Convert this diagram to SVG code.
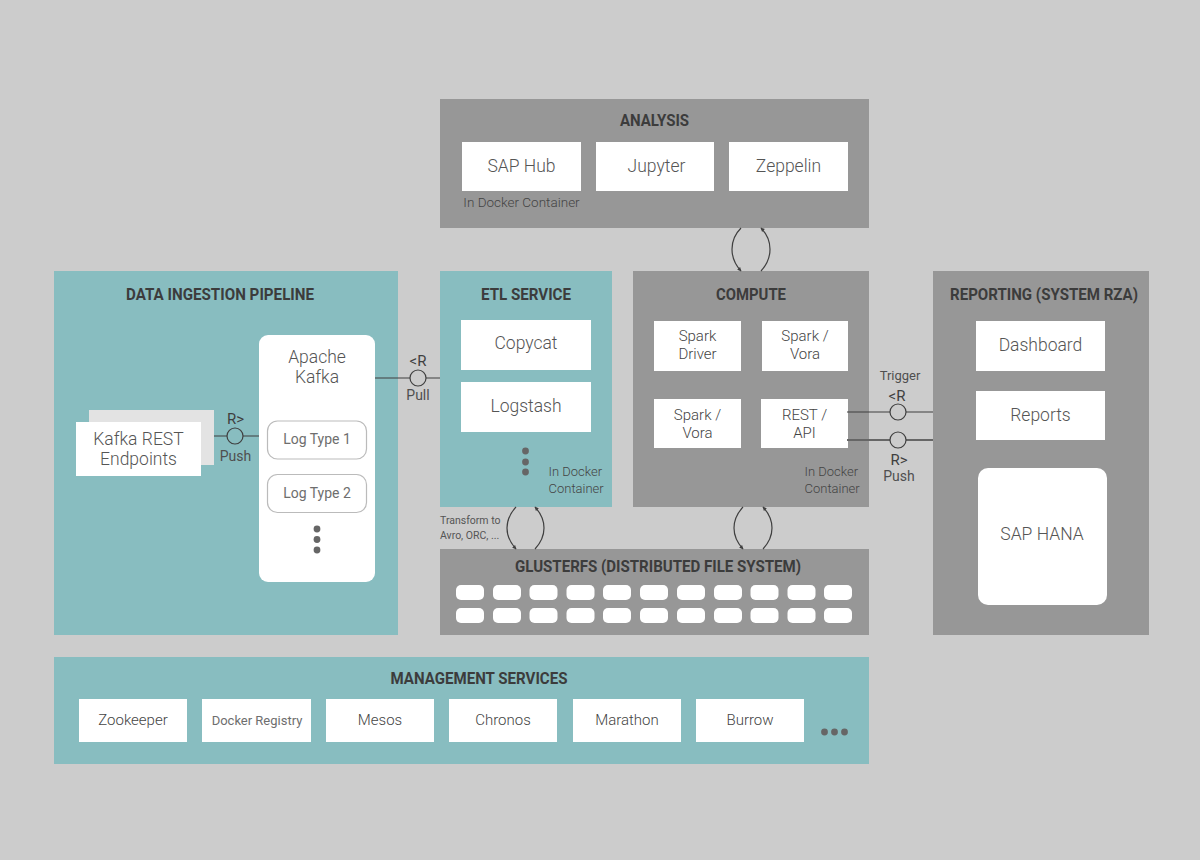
<svg xmlns="http://www.w3.org/2000/svg" width="1200" height="860" viewBox="0 0 1200 860">
<style>
text{font-family:Roboto,"Liberation Sans",sans-serif;fill:#666;text-anchor:middle}
.t{font-size:17px;font-weight:700;fill:#3c3c3c}
.n{font-size:17.500px;font-weight:300;fill:#555}
.s{font-size:13.500px;font-weight:300;fill:#444}
.b{font-size:15px;font-weight:300;fill:#444}
.k{font-size:14px;font-weight:400;fill:#6e6e6e}
.m{font-size:15px;font-weight:300;fill:#444}
.q{font-size:13px;font-weight:400;fill:#6e6e6e}
.l{font-size:14px;font-weight:400;fill:#4f4f4f}
.r{font-size:15px;font-weight:400;fill:#3f3f3f}
.d{font-size:13px;font-weight:300;fill:#444;text-anchor:start}
.x{font-size:10.500px;font-weight:400;fill:#555;text-anchor:start}
.g{fill:#979797}.c{fill:#88bdc0}.w{fill:#fff}
.ln{stroke:#3f3f3f;stroke-width:1.200;fill:none}
.o{stroke:#3f3f3f;stroke-width:1.200;fill:none}
.dot{fill:#666}
</style>
<defs><marker id="a" markerUnits="userSpaceOnUse" markerWidth="5" markerHeight="5" refX="4" refY="2.500" orient="auto"><path d="M0.500 0.500L4.500 2.500L0.500 4.500z" fill="#3f3f3f"/></marker></defs>
<rect width="1200" height="860" fill="#ccc"/>
<g id="analysis"><rect class="g" x="440" y="99" width="429" height="129"/>
<text class="t" x="654.500" y="126" textLength="69" lengthAdjust="spacingAndGlyphs">ANALYSIS</text>
<rect class="w" x="462" y="142" width="119" height="49"/><text class="n" x="521.500" y="172">SAP Hub</text>
<rect class="w" x="596" y="142" width="118" height="49"/><text class="n" x="656.500" y="172">Jupyter</text>
<rect class="w" x="729" y="142" width="119" height="49"/><text class="n" x="788.500" y="172">Zeppelin</text>
<text class="s" x="521.500" y="207">In Docker Container</text></g>
<g id="ingestion"><rect class="c" x="54" y="271" width="344" height="364"/>
<text class="t" x="220" y="300" textLength="188" lengthAdjust="spacingAndGlyphs">DATA INGESTION PIPELINE</text>
<rect x="89" y="410" width="125" height="55" fill="#e3e3e3"/>
<rect class="w" x="76" y="422" width="125" height="54"/><text class="n" x="138.500" y="445">Kafka REST</text><text class="n" x="138.500" y="465">Endpoints</text>
<rect class="w" x="259" y="335" width="116" height="247" rx="9"/>
<text class="n" x="317" y="363">Apache</text><text class="n" x="317" y="383">Kafka</text>
<rect x="267.500" y="421" width="99" height="38" rx="10" fill="#fff" stroke="#bbb" stroke-width="1.200"/><text class="k" x="317" y="444">Log Type 1</text>
<rect x="267.500" y="474.500" width="99" height="38" rx="10" fill="#fff" stroke="#bbb" stroke-width="1.200"/><text class="k" x="317" y="498">Log Type 2</text>
<circle class="dot" cx="317" cy="529" r="3.400"/><circle class="dot" cx="317" cy="539.500" r="3.400"/><circle class="dot" cx="317" cy="550" r="3.400"/></g>
<g id="etl"><rect class="c" x="440" y="271" width="172" height="236"/>
<text class="t" x="526" y="300" textLength="90" lengthAdjust="spacingAndGlyphs">ETL SERVICE</text>
<rect class="w" x="461" y="320" width="130" height="50"/><text class="n" x="526" y="349">Copycat</text>
<rect class="w" x="461" y="382" width="130" height="50"/><text class="n" x="526" y="412">Logstash</text>
<circle class="dot" cx="525.500" cy="451" r="3.400"/><circle class="dot" cx="525.500" cy="462" r="3.400"/><circle class="dot" cx="525.500" cy="472" r="3.400"/>
<text class="d" x="548.500" y="476">In Docker</text><text class="d" x="548.500" y="493">Container</text></g>
<g id="compute"><rect class="g" x="633" y="271" width="236" height="236"/>
<text class="t" x="751" y="300" textLength="70" lengthAdjust="spacingAndGlyphs">COMPUTE</text>
<rect class="w" x="654" y="321" width="87" height="50"/><text class="b" x="697.500" y="341">Spark</text><text class="b" x="697.500" y="359">Driver</text>
<rect class="w" x="762" y="321" width="86" height="50"/><text class="b" x="805" y="341">Spark /</text><text class="b" x="805" y="359">Vora</text>
<rect class="w" x="654" y="399" width="87" height="49"/><text class="b" x="697.500" y="420">Spark /</text><text class="b" x="697.500" y="438">Vora</text>
<rect class="w" x="761" y="399" width="87" height="49"/><text class="b" x="804.500" y="420">REST /</text><text class="b" x="804.500" y="438">API</text>
<text class="d" x="804.500" y="476">In Docker</text><text class="d" x="804.500" y="493">Container</text></g>
<g id="reporting"><rect class="g" x="933" y="271" width="216" height="364"/>
<text class="t" x="1044" y="300" textLength="188" lengthAdjust="spacingAndGlyphs">REPORTING (SYSTEM RZA)</text>
<rect class="w" x="976" y="321" width="129" height="50"/><text class="n" x="1040.500" y="351">Dashboard</text>
<rect class="w" x="976" y="391" width="129" height="49"/><text class="n" x="1040.500" y="421">Reports</text>
<rect class="w" x="978" y="468" width="129" height="137" rx="10"/><text class="n" x="1042" y="540">SAP HANA</text></g>
<g id="glusterfs"><rect class="g" x="440" y="549" width="429" height="86"/>
<text class="t" x="658" y="572" textLength="286" lengthAdjust="spacingAndGlyphs">GLUSTERFS (DISTRIBUTED FILE SYSTEM)</text>
<g class="w">
<rect x="456" y="585" width="28" height="15" rx="5"/><rect x="493" y="585" width="28" height="15" rx="5"/><rect x="529.500" y="585" width="28" height="15" rx="5"/><rect x="566.500" y="585" width="28" height="15" rx="5"/><rect x="603" y="585" width="28" height="15" rx="5"/><rect x="640" y="585" width="28" height="15" rx="5"/><rect x="677" y="585" width="28" height="15" rx="5"/><rect x="714" y="585" width="28" height="15" rx="5"/><rect x="750.500" y="585" width="28" height="15" rx="5"/><rect x="787.500" y="585" width="28" height="15" rx="5"/><rect x="824" y="585" width="28" height="15" rx="5"/>
<rect x="456" y="608" width="28" height="15" rx="5"/><rect x="493" y="608" width="28" height="15" rx="5"/><rect x="529.500" y="608" width="28" height="15" rx="5"/><rect x="566.500" y="608" width="28" height="15" rx="5"/><rect x="603" y="608" width="28" height="15" rx="5"/><rect x="640" y="608" width="28" height="15" rx="5"/><rect x="677" y="608" width="28" height="15" rx="5"/><rect x="714" y="608" width="28" height="15" rx="5"/><rect x="750.500" y="608" width="28" height="15" rx="5"/><rect x="787.500" y="608" width="28" height="15" rx="5"/><rect x="824" y="608" width="28" height="15" rx="5"/>
</g></g>
<g id="management"><rect class="c" x="54" y="657" width="815" height="107"/>
<text class="t" x="479" y="684" textLength="177" lengthAdjust="spacingAndGlyphs">MANAGEMENT SERVICES</text>
<rect class="w" x="79" y="699" width="108" height="43"/><text class="m" x="133" y="725">Zookeeper</text>
<rect class="w" x="202" y="699" width="109" height="43"/><text class="q" x="257" y="725">Docker Registry</text>
<rect class="w" x="326" y="699" width="108" height="43"/><text class="m" x="380" y="725">Mesos</text>
<rect class="w" x="449" y="699" width="108" height="43"/><text class="m" x="503" y="725">Chronos</text>
<rect class="w" x="573" y="699" width="108" height="43"/><text class="m" x="627" y="725">Marathon</text>
<rect class="w" x="696" y="699" width="108" height="43"/><text class="m" x="750" y="725">Burrow</text>
<circle class="dot" cx="824.500" cy="732" r="3.400"/><circle class="dot" cx="834.500" cy="732" r="3.400"/><circle class="dot" cx="844.500" cy="732" r="3.400"/></g>
<g id="connectors">
<path class="ln" d="M214 436H227M243 436H259"/><circle class="o" cx="235" cy="436" r="8"/>
<path class="ln" d="M375 378H410M426 378H440"/><circle class="o" cx="418" cy="378" r="8"/>
<path class="ln" d="M847 412H890M906 412H933"/><circle class="o" cx="898" cy="412" r="8"/>
<path class="ln" d="M847 440H890M906 440H933" style="stroke:#666;stroke-width:2"/><circle class="o" cx="898" cy="440" r="8"/>
<path class="ln" d="M741 228C729 240 729 258 741 271" marker-end="url(#a)"/><path class="ln" d="M761 271C773 258 773 240 761 228" marker-end="url(#a)"/>
<path class="ln" d="M516 507C504 520 504 536 516 549" marker-end="url(#a)"/><path class="ln" d="M535 549C547 536 547 520 535 507" marker-end="url(#a)"/>
<path class="ln" d="M743 507C731 520 731 536 743 549" marker-end="url(#a)"/><path class="ln" d="M763 549C775 536 775 520 763 507" marker-end="url(#a)"/>
</g>
<g id="labels">
<text class="r" x="235.500" y="424">R&gt;</text><text class="l" x="235.500" y="461">Push</text>
<text class="r" x="418" y="366">&lt;R</text><text class="l" x="418" y="400">Pull</text>
<text class="l" x="900" y="380" style="font-size:13px">Trigger</text><text class="r" x="897" y="401">&lt;R</text>
<text class="r" x="899" y="465">R&gt;</text><text class="l" x="899" y="481">Push</text>
<text class="x" x="440" y="524">Transform to</text><text class="x" x="440" y="539">Avro, ORC, ...</text>
</g>
</svg>
